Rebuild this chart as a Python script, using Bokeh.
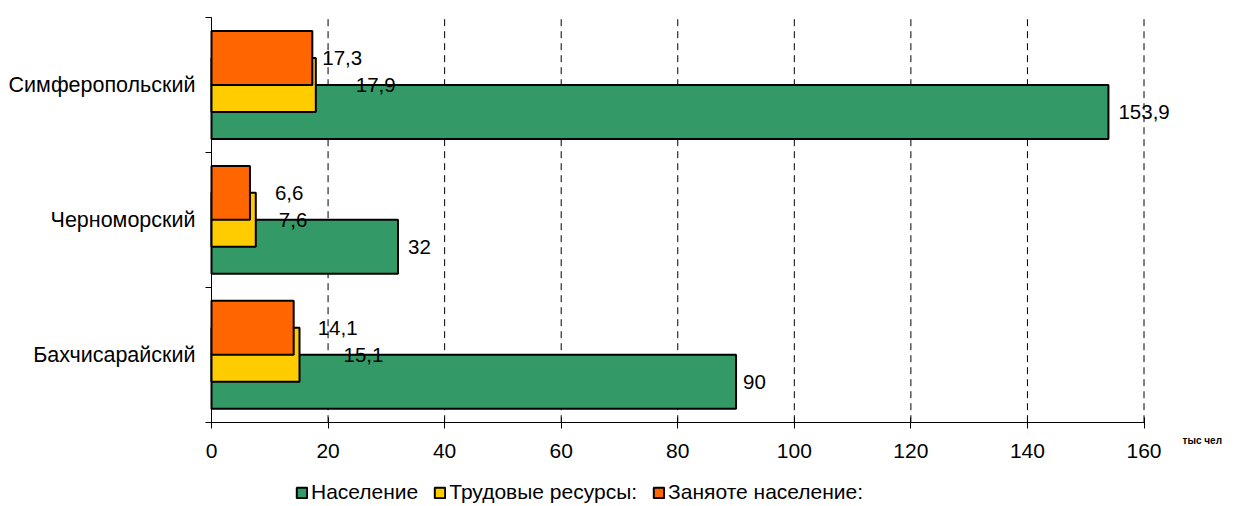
from bokeh.plotting import figure
from bokeh.models import (Range1d, FixedTicker, ColumnDataSource, LabelSet, Label,
                          Legend, LegendItem)
from bokeh.core.properties import value
from bokeh.embed import file_html
from bokeh.resources import INLINE

# ---- data ----
categories = ["Симферопольский", "Черноморский", "Бахчисарайский"]
series_names = ["Население", "Трудовые ресурсы:", "Заняоте население:"]
naselenie = [153.9, 32, 90]
trud_resursy = [17.9, 7.6, 15.1]
zanyatoe = [17.3, 6.6, 14.1]
x_ticks = [0, 20, 40, 60, 80, 100, 120, 140, 160]
unit_label = "тыс чел"

# ---- styles / layout ----
colors = ["#339966", "#FFCC00", "#FF6600"]
dodges = [-0.2, 0.0, 0.2]
label_dx = [[10, 10, 7], [40, 23, 44], [10, 25, 24]]   # pixel offsets of value labels
FONT = "Liberation Sans"

PLOT_W, PLOT_H = 1235, 504
LEFT, TOP = 211, 17            # pixel of the y axis line / top of category area
X_AXIS_END_PX = 1143.5         # pixel of the last x tick
Y_ZERO_PX = 421.7              # pixel of the x axis line

n = len(categories)
centers = [n - i - 0.5 for i in range(n)]

px_x = (X_AXIS_END_PX - LEFT) / (x_ticks[-1] - x_ticks[0])
x_start = x_ticks[0] - LEFT / px_x
x_end = x_ticks[0] + (PLOT_W - LEFT) / px_x
px_y = (Y_ZERO_PX - TOP) / n
y_end = n + TOP / px_y
y_start = n - (PLOT_H - TOP) / px_y


def fmt(v):
    return f"{v:g}".replace(".", ",")


p = figure(width=PLOT_W, height=PLOT_H,
           x_range=Range1d(x_start, x_end), y_range=Range1d(y_start, y_end),
           output_backend="svg", toolbar_location=None,
           min_border_left=0, min_border_right=0,
           min_border_top=0, min_border_bottom=0)
p.outline_line_color = None
p.background_fill_color = "white"
p.border_fill_color = "white"
p.xgrid.visible = False
p.ygrid.visible = False

# dashed vertical grid lines, from the axis up to the top of the category area
grid_x = x_ticks[1:]
p.segment(x0=grid_x, x1=grid_x, y0=[0] * len(grid_x), y1=[n] * len(grid_x),
          line_color="black", line_width=1, line_dash="7 5")

items = []
for k, vals in enumerate([naselenie, trud_resursy, zanyatoe]):
    src = ColumnDataSource(dict(
        y=[c + dodges[k] for c in centers],
        right=vals,
        text=[fmt(v) for v in vals],
        dx=label_dx[k],
    ))
    r = p.hbar(y="y", left=0, right="right", height=0.4, source=src,
               fill_color=colors[k], line_color="black", line_width=2)
    items.append(LegendItem(label=series_names[k], renderers=[r]))
    p.add_layout(LabelSet(x="right", y="y", text="text", x_offset="dx", source=src,
                          text_baseline="middle", text_align="left",
                          text_font=value(FONT), text_font_size=value("20.5px"),
                          text_color="black"))

# x axis, drawn at y = 0
xa = p.xaxis[0]
xa.fixed_location = 0
xa.bounds = (x_ticks[0], x_ticks[-1])
xa.ticker = FixedTicker(ticks=x_ticks)
xa.major_label_text_font = FONT
xa.major_label_text_font_size = "21px"
xa.major_label_text_color = "black"
xa.major_tick_in = 5
xa.major_tick_out = 6
xa.minor_tick_in = 0
xa.minor_tick_out = 0
xa.axis_line_color = "black"
xa.major_tick_line_color = "black"
xa.major_label_standoff = 16

# y axis drawn at x = 0, ticks at category boundaries
ya = p.yaxis[0]
ya.fixed_location = 0
ya.bounds = (0, n)
ya.ticker = FixedTicker(ticks=centers, minor_ticks=list(range(n + 1)))
ya.major_label_overrides = {c: cat for c, cat in zip(centers, categories)}
ya.major_label_text_font = FONT
ya.major_label_text_font_size = "21.5px"
ya.major_label_text_color = "black"
ya.major_tick_in = 0
ya.major_tick_out = 0
ya.minor_tick_in = 0
ya.minor_tick_out = 6
ya.minor_tick_line_color = "black"
ya.axis_line_color = "black"
ya.major_label_standoff = 10

p.add_layout(Label(x=x_ticks[-1], y=0, x_offset=38.5, y_offset=-18, text=unit_label,
                   text_font=FONT, text_font_size="10px", text_font_style="bold",
                   text_baseline="middle", text_align="left", text_color="black"))

legend = Legend(items=items, orientation="horizontal", location=(LEFT + 84, 0),
                border_line_color=None, background_fill_alpha=0,
                padding=0, margin=0, spacing=15,
                glyph_width=13, glyph_height=13, label_height=13, label_standoff=3,
                label_text_font=FONT, label_text_font_size="21px",
                label_text_baseline="middle", label_text_color="black")
p.add_layout(legend)

open("out.html", "w").write(file_html(p, INLINE))
